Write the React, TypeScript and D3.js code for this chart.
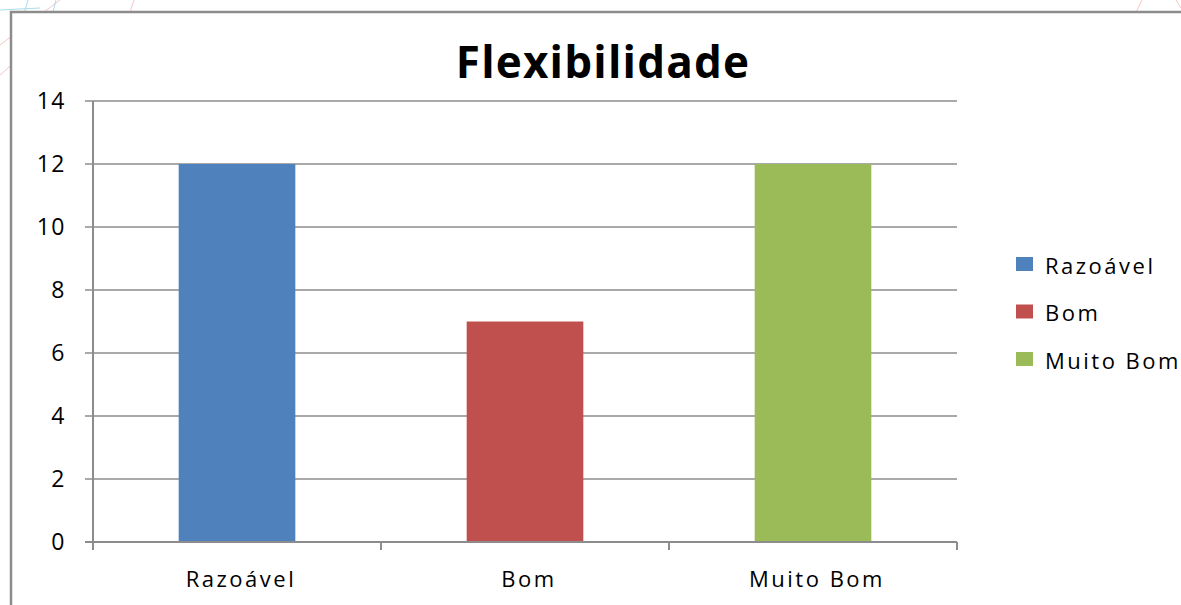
import React from 'react';
import * as d3 from 'd3';

const categories = ['Razoável', 'Bom', 'Muito Bom'];
const values = [12, 7, 12];
const colors = ['#4F81BD', '#C0504D', '#9BBB59'];
const yTicks = [0, 2, 4, 6, 8, 10, 12, 14];

const W = 1181;
const H = 605;
const plot = { left: 93, right: 957, top: 101, bottom: 542 };
const font = "'Open Sans', 'Noto Sans', sans-serif";

const App = () => {
  const x = d3.scaleBand<string>().domain(categories).range([plot.left, plot.right]).padding(0);
  const y = d3.scaleLinear().domain([0, 14]).range([plot.bottom, plot.top]);
  const barW = x.bandwidth() * 0.405;
  const boundaries = [...categories.map(c => x(c) as number), plot.right];

  return (
    <div style={{ position: 'fixed', left: 0, top: 0, width: W, height: H, background: '#fff' }}>
      <svg width={W} height={H} style={{ display: 'block' }}>
        {/* faint background strokes behind the frame */}
        <g fill="none" strokeWidth={1}>
          <path d="M0,45 L60,0" stroke="#f4c6c6" />
          <path d="M0,75 L40,40" stroke="#f4c6c6" />
          <path d="M12,55 L28,0" stroke="#a8dcea" />
          <path d="M53,12 L56,0" stroke="#a8dcea" />
          <path d="M0,10 L40,8" stroke="#a8dcea" />
          <path d="M130,12 L134,0" stroke="#f4c6c6" />
          <path d="M1136,12 L1142,0" stroke="#f4c6c6" />
          <path d="M1176,0 L1181,8" stroke="#f4c6c6" />
        </g>
        {/* chart frame */}
        <rect x={11} y={12} width={W + 20} height={H + 20} fill="#fff" stroke="#8c8c8c" strokeWidth={2.5} />

        <text x={603} y={78} textAnchor="middle" fontFamily={font} fontWeight="bold" fontSize={44} letterSpacing={1.2} fill="#000">
          Flexibilidade
        </text>

        {/* gridlines and y ticks */}
        {yTicks.map(t => (
          <g key={t}>
            <line x1={plot.left - 8} x2={plot.right} y1={y(t)} y2={y(t)} stroke="#8c8c8c" strokeWidth={1.5} />
            <text x={66} y={y(t)} dy="0.36em" textAnchor="end" fontFamily={font} fontSize={23} letterSpacing={1.5} fill="#000">
              {t}
            </text>
          </g>
        ))}

        {/* bars */}
        {categories.map((c, i) => (
          <rect
            key={c}
            x={(x(c) as number) + x.bandwidth() / 2 - barW / 2}
            y={y(values[i])}
            width={barW}
            height={y(0) - y(values[i])}
            fill={colors[i]}
          />
        ))}

        {/* axes */}
        <line x1={plot.left} x2={plot.left} y1={plot.top} y2={plot.bottom + 7} stroke="#8c8c8c" strokeWidth={2} />
        <line x1={plot.left - 8} x2={plot.right} y1={plot.bottom} y2={plot.bottom} stroke="#8c8c8c" strokeWidth={2} />
        {boundaries.map((b, i) => (
          <line key={i} x1={b} x2={b} y1={plot.bottom} y2={plot.bottom + 8} stroke="#8c8c8c" strokeWidth={2} />
        ))}
        {categories.map(c => (
          <text
            key={c}
            x={(x(c) as number) + x.bandwidth() / 2 + 4}
            y={587}
            textAnchor="middle"
            fontFamily={font}
            fontSize={22}
            letterSpacing={2.5}
            fill="#000"
          >
            {c}
          </text>
        ))}

        {/* legend */}
        {categories.map((c, i) => (
          <g key={c} transform={`translate(1016, ${257 + i * 47.5})`}>
            <rect x={0} y={0} width={17} height={14} fill={colors[i]} />
            <text x={29} y={7} dy="0.45em" fontFamily={font} fontSize={22} letterSpacing={2.5} fill="#000">
              {c}
            </text>
          </g>
        ))}
      </svg>
    </div>
  );
};

export default App;
